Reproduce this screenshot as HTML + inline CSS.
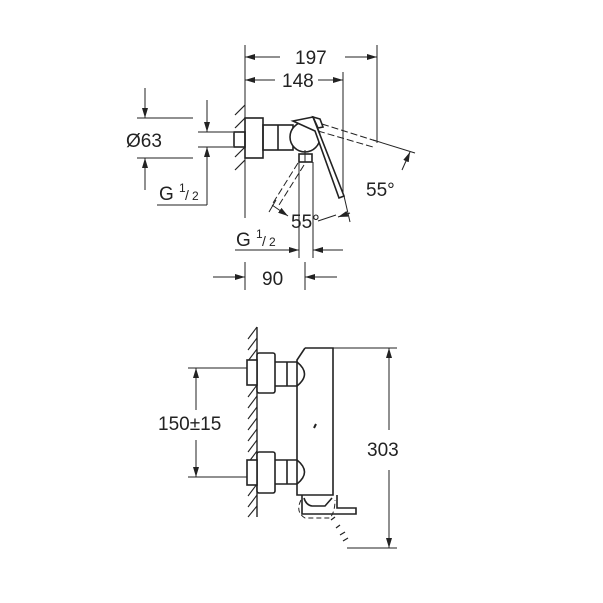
<!DOCTYPE html>
<html><head><style>body{margin:0;background:#fff}svg{display:block}text{font-family:"Liberation Sans",sans-serif;fill:#222}</style></head><body>
<svg width="603" height="603" viewBox="0 0 603 603" xmlns="http://www.w3.org/2000/svg">
<defs>
<marker id="a" viewBox="0 0 10 6" refX="10" refY="3" markerWidth="10" markerHeight="6" orient="auto-start-reverse" markerUnits="userSpaceOnUse"><path d="M0,0L10,3L0,6z" fill="#222"/></marker>
</defs>
<g stroke="#222" stroke-width="1" fill="none">
<!-- TOP VIEW -->
<line x1="245" y1="45" x2="245" y2="218"/>
<line x1="377" y1="45" x2="377" y2="143"/>
<line x1="343" y1="72" x2="343" y2="197"/>
<line x1="280" y1="57" x2="245" y2="57" marker-end="url(#a)"/>
<line x1="345" y1="57" x2="377" y2="57" marker-end="url(#a)"/>
<line x1="275" y1="80" x2="245" y2="80" marker-end="url(#a)"/>
<line x1="318" y1="80" x2="343" y2="80" marker-end="url(#a)"/>
<g stroke-width="1.2">
<line x1="245" y1="105" x2="235" y2="115"/><line x1="245" y1="118" x2="235" y2="128"/>
<line x1="245" y1="147" x2="235" y2="157"/><line x1="245" y1="160" x2="235" y2="170"/>
</g>
<g stroke-width="1.6">
<rect x="245" y="118" width="18" height="40"/>
<rect x="234" y="132" width="11" height="15"/>
<rect x="263" y="125" width="30" height="25"/>
<line x1="278" y1="125" x2="278" y2="150"/>
<circle cx="305" cy="137" r="15" fill="#fff"/>
<polygon points="293,121 313,117 344,196 339,198 315,131" fill="#fff"/>
<polygon points="313,117 320,119 323,127 318,128"/>
<rect x="299" y="154" width="13" height="8"/>
</g>
<line x1="299" y1="162" x2="299" y2="258"/><line x1="313" y1="162" x2="313" y2="258"/>
<line x1="305" y1="150" x2="305" y2="162"/>
<g stroke-dasharray="7,3">
<line x1="322" y1="124" x2="376" y2="141"/><line x1="318" y1="131" x2="373" y2="147"/>
<line x1="298" y1="163" x2="273" y2="203"/><line x1="304" y1="165" x2="279" y2="205"/>
</g>
<line x1="373" y1="140" x2="415" y2="153"/>
<line x1="276" y1="200" x2="269" y2="212"/>
<line x1="344" y1="196" x2="350" y2="222"/>
<line x1="402" y1="170" x2="410" y2="152" marker-end="url(#a)"/>
<path d="M272,205 L288,216" marker-end="url(#a)"/>
<path d="M338,217 L350,213" marker-start="url(#a)"/>
<path d="M336,215 L318,221" />
<line x1="137" y1="118" x2="193" y2="118"/><line x1="137" y1="158" x2="193" y2="158"/>
<line x1="145" y1="88" x2="145" y2="118" marker-end="url(#a)"/>
<line x1="145" y1="190" x2="145" y2="158" marker-end="url(#a)"/>
<line x1="198" y1="132" x2="233" y2="132"/><line x1="198" y1="147" x2="233" y2="147"/>
<line x1="207" y1="100" x2="207" y2="132" marker-end="url(#a)"/>
<line x1="207" y1="205" x2="207" y2="147" marker-end="url(#a)"/>
<line x1="157" y1="205" x2="207" y2="205"/>
<line x1="235" y1="250" x2="299" y2="250" marker-end="url(#a)"/>
<line x1="343" y1="250" x2="313" y2="250" marker-end="url(#a)"/>
<line x1="305" y1="262" x2="305" y2="290"/>
<line x1="213" y1="277" x2="245" y2="277" marker-end="url(#a)"/>
<line x1="337" y1="277" x2="305" y2="277" marker-end="url(#a)"/>
<line x1="245" y1="262" x2="245" y2="290"/>

<!-- FRONT VIEW -->
<line x1="257" y1="327" x2="257" y2="517" stroke-width="1.4"/>
<g stroke-width="1.1">
<line x1="257" y1="327" x2="248" y2="339"/><line x1="257" y1="338" x2="248" y2="350"/>
<line x1="257" y1="349" x2="248" y2="361"/><line x1="257" y1="385" x2="248" y2="397"/>
<line x1="257" y1="396" x2="248" y2="408"/><line x1="257" y1="407" x2="248" y2="419"/>
<line x1="257" y1="418" x2="248" y2="430"/><line x1="257" y1="429" x2="248" y2="441"/>
<line x1="257" y1="440" x2="248" y2="452"/><line x1="257" y1="451" x2="248" y2="463"/>
<line x1="257" y1="484" x2="248" y2="496"/><line x1="257" y1="495" x2="248" y2="507"/>
<line x1="257" y1="506" x2="248" y2="517"/>
</g>
<g stroke-width="1.6">
<path d="M305,348 L333,348 L333,495 L297,495 L297,458 M297,386 L297,360 L305,348 M297,386 L297,458"/>
<path d="M275,362 L297,362 Q312,374 297,386 L275,386 M287,362 L287,386"/>
<path d="M275,460 L297,460 Q312,472 297,484 L275,484 M287,460 L287,484"/>
<rect x="257" y="353" width="18" height="40" rx="2" fill="#fff"/>
<rect x="257" y="452" width="18" height="41" rx="2" fill="#fff"/>
<rect x="247" y="360" width="10" height="25" fill="#fff"/>
<rect x="247" y="460" width="10" height="25" fill="#fff"/>
<path d="M302,495 L302,514 L356,514 L356,508 L337,508 L337,495"/>
<path d="M304,498 Q306,505 312,506 L325,506 L332,498"/>
</g>
<line x1="314" y1="428" x2="316" y2="424" stroke-width="2"/>
<path d="M301,500 Q295,512 305,518 L330,518 Q335,512 335,500" stroke-dasharray="5,3"/>
<g stroke-width="1.2"><line x1="331" y1="520" x2="335" y2="517"/><line x1="336" y1="528" x2="340" y2="525"/><line x1="340" y1="535" x2="345" y2="532"/><line x1="343" y1="541" x2="348" y2="538"/></g>
<line x1="347" y1="548" x2="397" y2="548"/>
<line x1="333" y1="348" x2="397" y2="348"/>
<line x1="389" y1="430" x2="389" y2="348" marker-end="url(#a)"/>
<line x1="389" y1="470" x2="389" y2="548" marker-end="url(#a)"/>
<line x1="188" y1="368" x2="247" y2="368"/><line x1="188" y1="477" x2="247" y2="477"/>
<line x1="196" y1="410" x2="196" y2="368" marker-end="url(#a)"/>
<line x1="196" y1="440" x2="196" y2="477" marker-end="url(#a)"/>
</g>
<g font-size="19">
<text x="295" y="64">197</text>
<text x="282" y="87">148</text>
<text x="126" y="147">Ø63</text>
<text x="159" y="200">G</text><text x="179" y="192" font-size="12">1</text><text x="185" y="200" font-size="14">/</text><text x="192" y="200" font-size="12">2</text>
<text x="366" y="196">55°</text>
<text x="291" y="228">55°</text>
<text x="236" y="246">G</text><text x="256" y="238" font-size="12">1</text><text x="262" y="246" font-size="14">/</text><text x="269" y="246" font-size="12">2</text>
<text x="262" y="285">90</text>
<text x="158" y="430">150±15</text>
<text x="367" y="456">303</text>
</g>
</svg>
</body></html>
